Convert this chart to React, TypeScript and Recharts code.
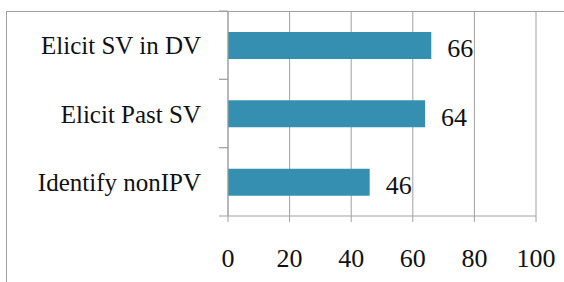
import React from 'react'
import { BarChart, Bar, XAxis, YAxis, CartesianGrid, LabelList } from 'recharts'

const categories = ['Elicit SV in DV', 'Elicit Past SV', 'Identify nonIPV']
const values = [66, 64, 46]
const xTicks = [0, 20, 40, 60, 80, 100]

const data = categories.map((name, i) => ({ name, value: values[i] }))

const W = 564
const H = 282
const TOP = 11
const BOTTOM = 216
const BAND = (BOTTOM - TOP) / categories.length
const GREY = '#a0a0a0'
const FONT = '"Liberation Serif", "DejaVu Serif", serif'

// category label + tick marks on the band boundaries (Excel style)
function CategoryTick({ x, y, payload }: any) {
  return (
    <g>
      <line x1={x - 9} x2={x} y1={y - BAND / 2} y2={y - BAND / 2} stroke={GREY} />
      <line x1={x - 9} x2={x} y1={y + BAND / 2} y2={y + BAND / 2} stroke={GREY} />
      <text x={x - 27} y={y} dy="0.36em" textAnchor="end" fontSize={25} fontFamily={FONT} fill="#111">
        {payload.value}
      </text>
    </g>
  )
}

function ValueTick({ x, y, payload }: any) {
  return (
    <text x={x} y={y + 36} dy="0.36em" textAnchor="middle" fontSize={26} fontFamily={FONT} fill="#111">
      {payload.value}
    </text>
  )
}

function ValueLabel({ x, y, width, height, value }: any) {
  return (
    <text x={x + width + 16} y={y + height / 2 + 2.5} dy="0.36em" textAnchor="start" fontSize={26} fontFamily={FONT} fill="#111">
      {value}
    </text>
  )
}

export default function App() {
  return (
    <div style={{ position: 'absolute', left: 0, top: 0, width: W, height: H, overflow: 'hidden', background: '#fff' }}>
      <div
        style={{
          position: 'absolute',
          left: 6,
          top: 11,
          width: W + 20,
          height: H + 20,
          border: `1px solid ${GREY}`,
          boxSizing: 'border-box',
        }}
      />
      <div style={{ position: 'absolute', left: 0, top: 0 }}>
        <BarChart
          width={W}
          height={H}
          data={data}
          layout="vertical"
          margin={{ top: TOP, right: 28, left: 0, bottom: H - BOTTOM - 50 }}
        >
          <CartesianGrid horizontal={false} stroke={GREY} />
          <XAxis
            type="number"
            domain={[0, 100]}
            ticks={xTicks}
            height={50}
            tickSize={6}
            tickMargin={0}
            axisLine={{ stroke: GREY }}
            tickLine={{ stroke: GREY }}
            tick={<ValueTick />}
          />
          <YAxis
            type="category"
            dataKey="name"
            width={228}
            tickSize={0}
            tickMargin={0}
            axisLine={{ stroke: GREY }}
            tickLine={false}
            tick={<CategoryTick />}
          />
          <Bar dataKey="value" fill="#358fb0" barSize={27} isAnimationActive={false}>
            <LabelList dataKey="value" content={<ValueLabel />} />
          </Bar>
        </BarChart>
      </div>
    </div>
  )
}
